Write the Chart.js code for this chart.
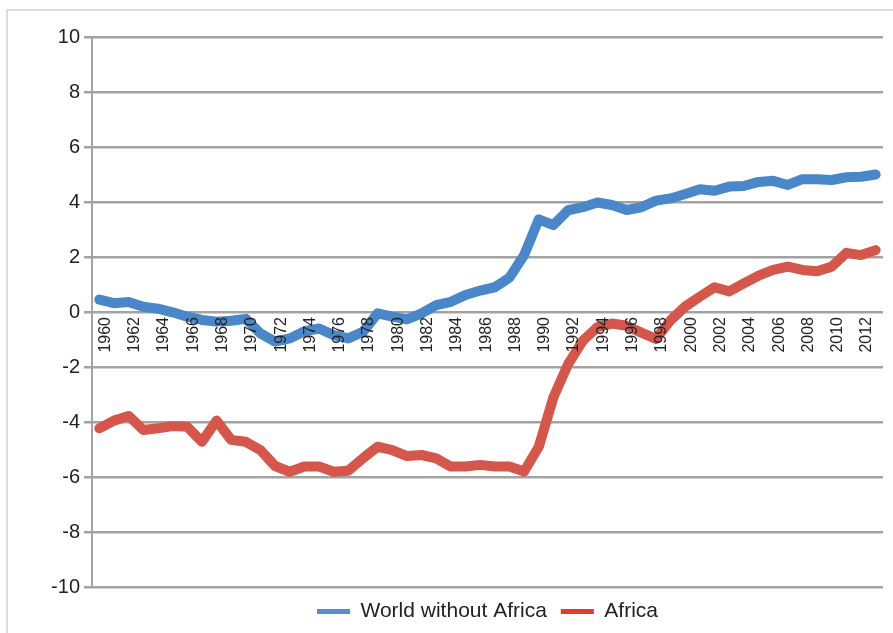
<!DOCTYPE html>
<html>
<head>
<meta charset="utf-8">
<script src="https://cdn.jsdelivr.net/npm/chart.js@4.4.1/dist/chart.umd.min.js"></script>
<style>
  html, body { margin: 0; padding: 0; background: #ffffff; overflow: hidden; }
  #frame { position: absolute; left: 6px; top: 9px; width: 1000px; height: 1000px;
           border-top: 2px solid #dcdcdc; border-left: 2px solid #dcdcdc; }
  #wrap { position: absolute; left: 0; top: 0; width: 893px; height: 633px; }
</style>
</head>
<body>
<div id="frame"></div>
<div id="wrap"><canvas id="c"></canvas></div>
<script>
const years = [1960,1961,1962,1963,1964,1965,1966,1967,1968,1969,
               1970,1971,1972,1973,1974,1975,1976,1977,1978,1979,
               1980,1981,1982,1983,1984,1985,1986,1987,1988,1989,
               1990,1991,1992,1993,1994,1995,1996,1997,1998,1999,
               2000,2001,2002,2003,2004,2005,2006,2007,2008,2009,
               2010,2011,2012,2013];

const worldWithoutAfrica = [0.45,0.32,0.36,0.19,0.12,-0.01,-0.17,-0.29,-0.35,-0.32,
                            -0.25,-0.78,-1.08,-0.96,-0.70,-0.60,-0.84,-0.96,-0.72,-0.05,
                            -0.17,-0.27,-0.05,0.25,0.37,0.62,0.78,0.90,1.25,2.07,
                            3.37,3.16,3.70,3.81,3.98,3.89,3.71,3.81,4.05,4.13,
                            4.29,4.46,4.41,4.56,4.58,4.73,4.77,4.62,4.83,4.83,
                            4.80,4.90,4.92,5.00];

const africa = [-4.23,-3.95,-3.78,-4.29,-4.23,-4.15,-4.17,-4.72,-3.95,-4.65,
                -4.72,-5.02,-5.60,-5.81,-5.62,-5.62,-5.81,-5.77,-5.32,-4.90,
                -5.02,-5.24,-5.20,-5.32,-5.62,-5.62,-5.56,-5.62,-5.62,-5.80,
                -4.90,-3.10,-1.90,-1.05,-0.55,-0.42,-0.50,-0.75,-0.98,-0.30,
                0.20,0.56,0.90,0.75,1.04,1.32,1.53,1.65,1.53,1.48,
                1.65,2.15,2.07,2.25];

const seriesNames = ['World without Africa', 'Africa'];
const yMin = -10, yMax = 10, yStep = 2;

const lineColors = ['#4a87c9', '#d5564b'];
const legendColors = ['#5b8fcb', '#e53a2d'];
const FONT = "'Liberation Sans', Arial, Helvetica, sans-serif";

new Chart(document.getElementById('c'), {
  type: 'line',
  data: {
    labels: years,
    datasets: [
      { label: seriesNames[0], data: worldWithoutAfrica, borderColor: lineColors[0], backgroundColor: lineColors[0] },
      { label: seriesNames[1], data: africa, borderColor: lineColors[1], backgroundColor: lineColors[1] }
    ]
  },
  options: {
    responsive: true,
    maintainAspectRatio: false,
    animation: false,
    layout: { padding: { left: 0, right: 10, top: 37, bottom: 1 } },
    elements: {
      point: { radius: 0, hoverRadius: 0 },
      line: { borderWidth: 10, borderCapStyle: 'round', borderJoinStyle: 'round', tension: 0 }
    },
    plugins: {
      tooltip: { enabled: false },
      legend: {
        position: 'bottom',
        fullSize: false,
        labels: {
          boxWidth: 33,
          boxHeight: 5,
          padding: 14,
          color: '#222222',
          font: { family: FONT, size: 21 },
          generateLabels(chart) {
            return Chart.defaults.plugins.legend.labels.generateLabels(chart).map((l, i) => ({
              ...l, fillStyle: legendColors[i], strokeStyle: legendColors[i], lineWidth: 0
            }));
          }
        }
      }
    },
    scales: {
      x: {
        type: 'category',
        position: { y: 0 },
        offset: true,
        grid: { display: false },
        border: { display: false },
        ticks: {
          z: 1,
          autoSkip: false,
          minRotation: 90,
          maxRotation: 90,
          padding: -3,
          labelOffset: 6,
          color: '#222222',
          font: { family: FONT, size: 16 },
          callback: (v, i) => (i % 2 === 0 ? String(years[i]) : '')
        }
      },
      y: {
        min: yMin,
        max: yMax,
        ticks: { stepSize: yStep, padding: 4, color: '#222222', font: { family: FONT, size: 20 } },
        grid: { color: '#a3a3a3', lineWidth: 2.5, tickLength: 8, tickColor: '#a3a3a3' },
        border: { color: '#a3a3a3', width: 2 },
        afterFit(scale) { scale.width = 92; }
      }
    }
  }
});
</script>
</body>
</html>
